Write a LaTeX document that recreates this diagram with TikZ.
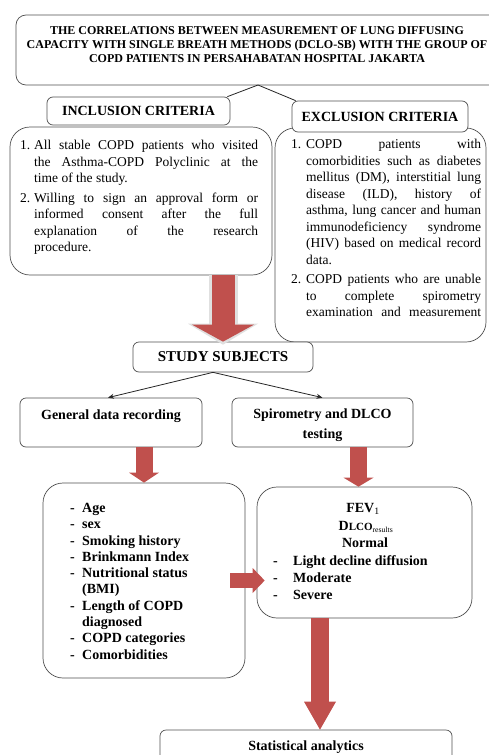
\documentclass[tikz,border=0pt]{standalone}
\usepackage{fontspec}
\setmainfont{Liberation Serif}
\usetikzlibrary{arrows.meta,calc}
\definecolor{arrowred}{HTML}{C0504D}
\definecolor{boxline}{HTML}{505050}
\newcommand\jline[2]{\makebox[#1][s]{#2}}
\newcommand\numb[2]{\makebox[#1][l]{#2}}
\newcommand\fbody{\fontsize{13.5}{16.5}\selectfont}
\newcommand\fbold{\fontsize{14}{16.3}\selectfont\bfseries}
\newcommand\fhead{\fontsize{14}{16}\selectfont\bfseries}
\newcommand\ftitle{\fontsize{12}{14}\selectfont\bfseries}
\begin{document}
\begin{tikzpicture}[x=1pt,y=-1pt,
  box/.style={draw=boxline, line width=0.7pt, rounded corners=6pt, fill=white, inner sep=0pt},
  bigbox/.style={box, rounded corners=20pt},
  txt/.style={inner sep=0pt, font=\fbody, align=left},
  conn/.style={draw=black!85, line width=0.8pt},
  redarr/.style={draw=arrowred, line width=#1}]
\useasboundingbox (0,0) rectangle (489,755);
\clip (0,0) rectangle (489,755);
\fill[white] (0,0) rectangle (489,755);

% title
\node[box, rounded corners=10pt, minimum width=484pt, minimum height=70pt] (title) at (258,50) {};
\node[inner sep=0pt, font=\ftitle, align=center, anchor=north] (ttext) at (257,26.5)
  {THE CORRELATIONS BETWEEN MEASUREMENT OF LUNG DIFFUSING\\
   CAPACITY WITH SINGLE BREATH METHODS (DCLO-SB) WITH THE GROUP OF\\
   COPD PATIENTS IN PERSAHABATAN HOSPITAL JAKARTA};

% criteria bodies
\node[bigbox, minimum width=262pt, minimum height=148pt] (incb) at (141,201) {};
\node[bigbox, minimum width=211pt, minimum height=214pt] (excb) at (380.5,235) {};
\node[box, minimum width=183pt, minimum height=28pt, font=\fhead] (inch) at (138.5,111) {INCLUSION CRITERIA};
\node[box, minimum width=176pt, minimum height=31pt, font=\fhead] (exch) at (380,116.5) {EXCLUSION CRITERIA};

\node[txt, anchor=north west] (inct) at (20,140)
  {\numb{14pt}{1.}\jline{224pt}{All stable COPD patients who visited}\\
   \hspace*{14pt}\jline{224pt}{the Asthma-COPD Polyclinic at the}\\
   \hspace*{14pt}time of the study.\\[3pt]
   \numb{14pt}{2.}\jline{224pt}{Willing to sign an approval form or}\\
   \hspace*{14pt}\jline{224pt}{informed consent after the full}\\
   \hspace*{14pt}\jline{224pt}{explanation of the research}\\
   \hspace*{14pt}procedure.};

\node[txt, anchor=north west] (exct) at (291,139)
  {\numb{15pt}{1.}\jline{175pt}{COPD patients with}\\
   \hspace*{15pt}\jline{175pt}{comorbidities such as diabetes}\\
   \hspace*{15pt}\jline{175pt}{mellitus (DM), interstitial lung}\\
   \hspace*{15pt}\jline{175pt}{disease (ILD), history of}\\
   \hspace*{15pt}\jline{175pt}{asthma, lung cancer and human}\\
   \hspace*{15pt}\jline{175pt}{immunodeficiency syndrome}\\
   \hspace*{15pt}\jline{175pt}{(HIV) based on medical record}\\
   \hspace*{15pt}data.\\[3pt]
   \numb{15pt}{2.}\jline{175pt}{COPD patients who are unable}\\
   \hspace*{15pt}\jline{175pt}{to complete spirometry}\\
   \hspace*{15pt}\jline{175pt}{examination and measurement}};

% study subjects
\node[box, minimum width=180pt, minimum height=30pt, font=\fontsize{15}{17}\selectfont\bfseries] (study) at (223,357) {STUDY SUBJECTS};

% second level
\node[box, minimum width=182pt, minimum height=49pt] (gen) at (111,422.5) {};
\node[inner sep=0pt, font=\fhead, anchor=base] (gent) at (111,419) {General data recording};
\node[box, minimum width=181pt, minimum height=49pt] (spir) at (322.5,422.5) {};
\node[inner sep=0pt, font=\fontsize{14}{20}\selectfont\bfseries, align=center, anchor=north] (spirt) at (322.5,409) {Spirometry and DLCO\\testing};

% third level
\node[bigbox, minimum width=202pt, minimum height=195pt] (genl) at (144,580.5) {};
\node[txt, font=\fbold, anchor=north west] (genlt) at (70,503)
  {\numb{12pt}{-}Age\\
   \numb{12pt}{-}sex\\
   \numb{12pt}{-}Smoking history\\
   \numb{12pt}{-}Brinkmann Index\\
   \numb{12pt}{-}Nutritional status\\
   \hspace*{12pt}(BMI)\\
   \numb{12pt}{-}Length of COPD\\
   \hspace*{12pt}diagnosed\\
   \numb{12pt}{-}COPD categories\\
   \numb{12pt}{-}Comorbidities};

\node[bigbox, minimum width=215pt, minimum height=131pt] (res) at (364.5,552.5) {};
\node[inner sep=0pt, font=\fhead, anchor=base] (fev) at (363,512.5) {FEV\textsubscript{\mdseries 1}};
\node[inner sep=0pt, font=\fhead, anchor=base] (dlco) at (366,530.5) {D{\fontsize{11}{12}\selectfont LCO\textsubscript{\mdseries results}}};
\node[inner sep=0pt, font=\fhead, anchor=base] (normal) at (365,547.5) {Normal};
\node[txt, font=\fontsize{14}{17}\selectfont\bfseries, anchor=north west] (reslt) at (273,555)
  {\numb{20pt}{-}Light decline diffusion\\
   \numb{20pt}{-}Moderate\\
   \numb{20pt}{-}Severe};

% final
\node[box, minimum width=292pt, minimum height=34pt, font=\fhead] (stat) at (306,747) {Statistical analytics};

% thin connectors
\coordinate (peak) at (258,85);
\draw[conn] ($(inch.north east)+(-3,0)$) -- (peak) -- ($(exch.north west)+(4,0)$);
\coordinate (fork) at ($(study.south)+(-10,0)$);
\draw[conn, -{Stealth[length=6pt,width=5pt]}] (fork) -- ($(gen.north)+(-3,0)$);
\draw[conn, -{Stealth[length=6pt,width=5pt]}] (fork) -- (spir.north);

% block arrows
\draw[draw=black!12, line width=29pt, -{Triangle[width=70pt,length=21pt,line width=0pt]}]
  (incb.south -| study.north) -- ($(study.north)+(0,3)$);
\draw[redarr=23pt, -{Triangle[width=62pt,length=17pt,line width=0pt]}]
  (incb.south -| study.north) -- (study.north);
\draw[redarr=17pt, -{Triangle[width=30pt,length=10pt,line width=0pt]}]
  (gen.south -| genl.north) -- (genl.north);
\draw[redarr=17pt, -{Triangle[width=30pt,length=9pt,line width=0pt]}]
  ($(spir.south -| res.north)+(-6,0)$) -- ($(res.north)+(-6,0)$);
\draw[redarr=15pt, -{Triangle[width=25pt,length=12pt,line width=0pt]}]
  ($(genl.east)+(-15,0)$) -- ($(res.west |- genl.east)+(8,0)$);
\draw[redarr=18pt, -{Triangle[width=32pt,length=28pt,line width=0pt]}]
  ($(res.south -| stat.north)+(14,0)$) -- ($(stat.north)+(14,0)$);
\end{tikzpicture}
\end{document}
